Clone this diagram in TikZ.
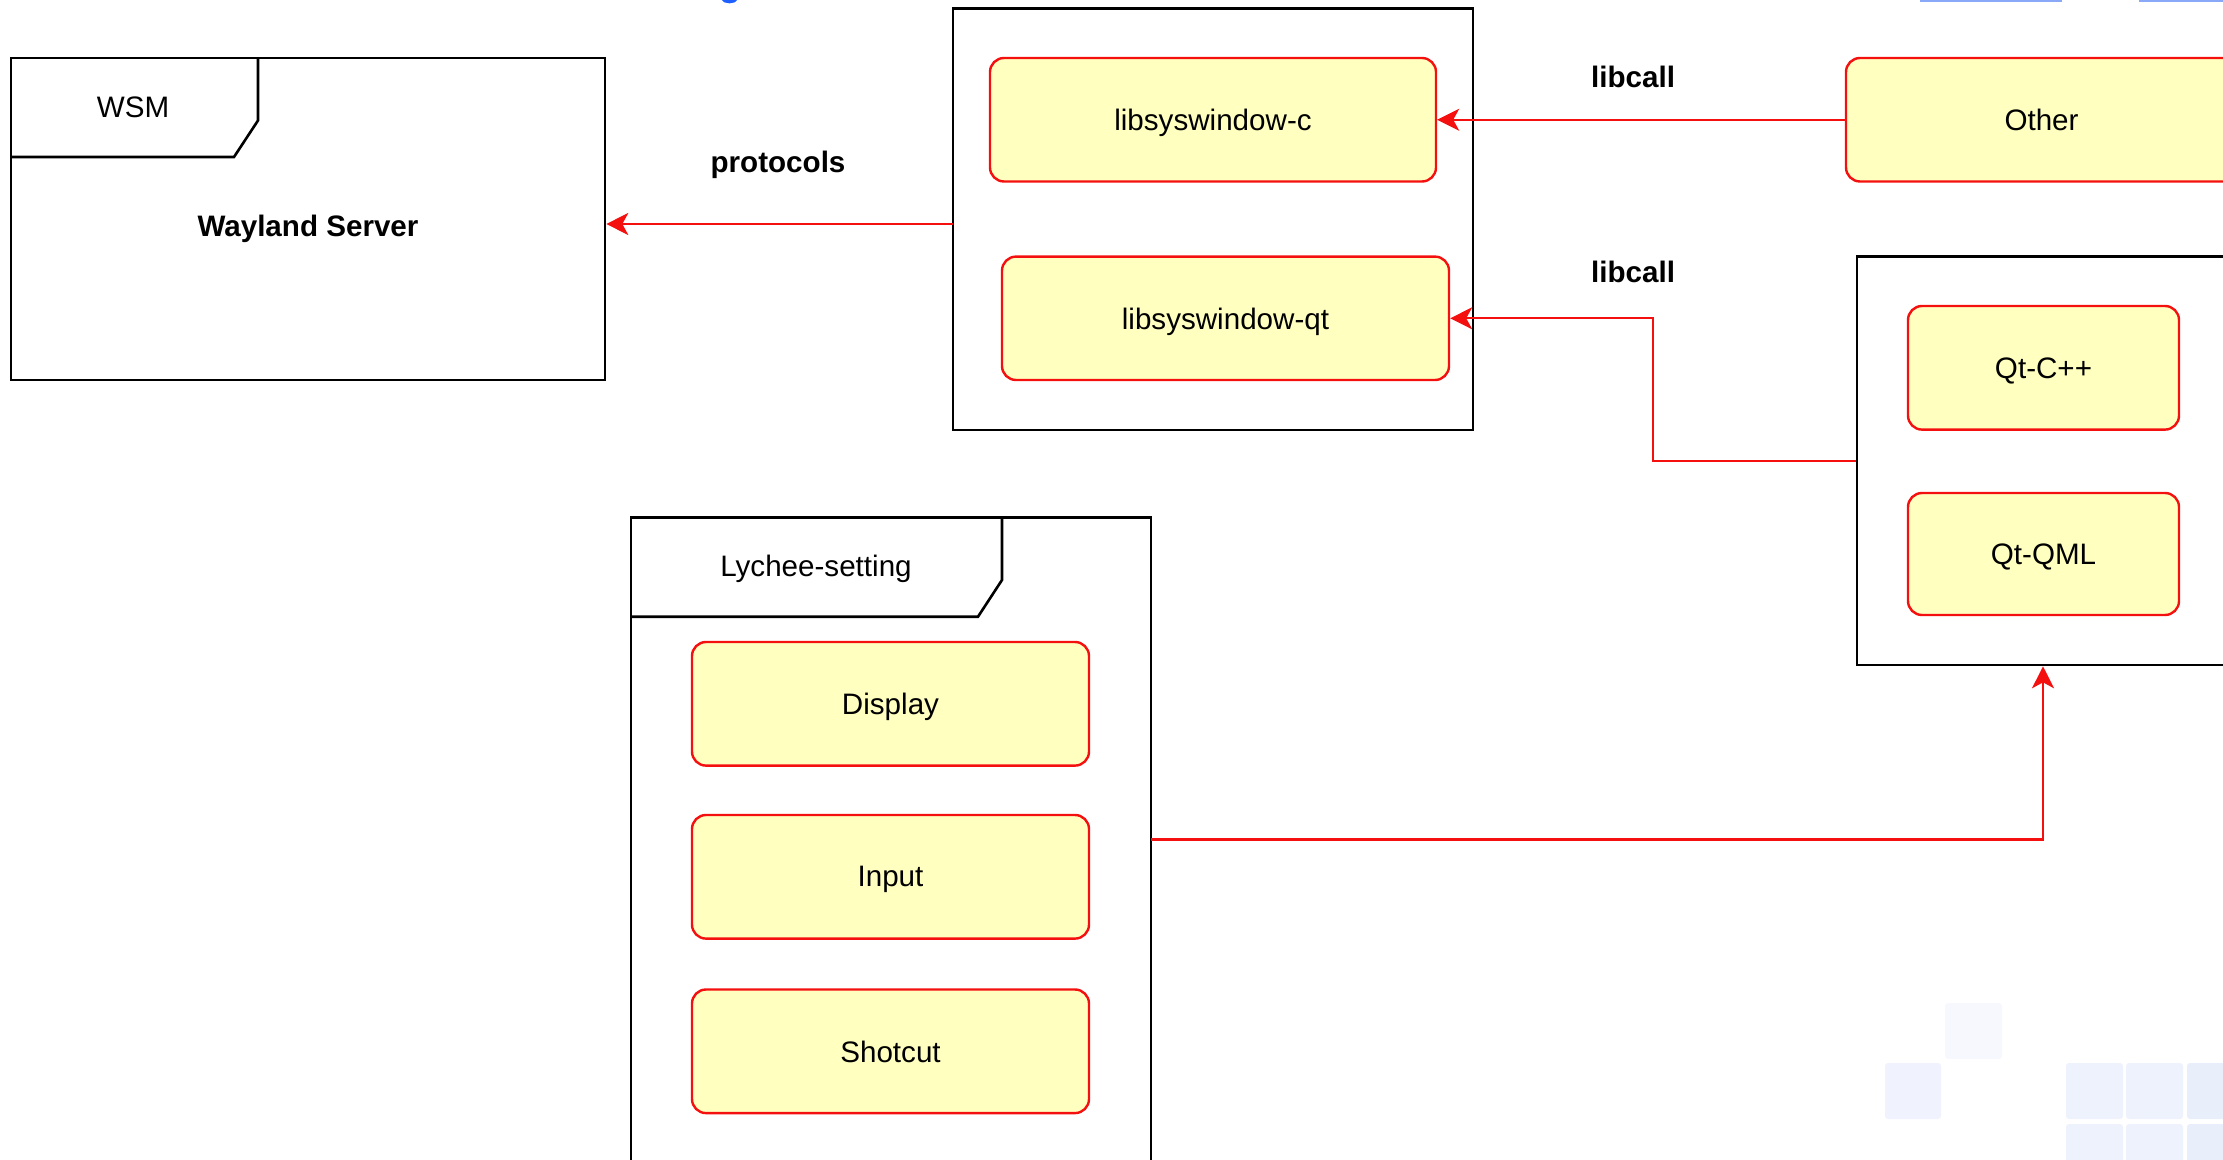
\documentclass[tikz,border=0pt]{standalone}
\usepackage{fontspec}
\setmainfont{Liberation Sans}
\usetikzlibrary{arrows.meta}
\definecolor{yfill}{HTML}{FFFFC0}
\definecolor{lred}{HTML}{F51010}
\definecolor{sqa}{HTML}{F7F8FD}
\definecolor{sqb}{HTML}{F0F3FD}
\definecolor{sqc}{HTML}{EEF2FC}
\definecolor{sqd}{HTML}{E9EEFB}
\definecolor{topblue}{HTML}{8AA8F8}
\definecolor{gblue}{HTML}{1F5FFF}
\tikzset{
  frame/.style={draw=black, line width=1.3pt, fill=none, inner sep=0pt},
  comp/.style={draw=lred, fill=yfill, line width=1.2pt, rounded corners=7pt, inner sep=0pt, align=center, text depth=0pt},
  plain/.style={inner sep=0pt, text depth=0pt},
  lbl/.style={font=\fontsize{14.8pt}{17pt}\selectfont\bfseries, inner sep=0pt, text depth=0pt},
  conn/.style={draw=lred, line width=1.2pt, -{Stealth[length=11pt,width=11pt,inset=3pt]}},
  sq/.style={rounded corners=1.5pt}
}
\begin{document}
\begin{tikzpicture}[x=0.5pt,y=-0.5pt, font=\fontsize{14.8pt}{17pt}\selectfont]
\useasboundingbox (0,0) rectangle (2223,1160);
\clip (0,0) rectangle (2223,1160);

% faint decorative squares
\fill[sqa,sq] (1945,1003) rectangle (2002,1059);
\fill[sqb,sq] (1885,1063) rectangle (1941,1119);
\fill[sqc,sq] (2066,1063) rectangle (2123,1119);
\fill[sqc,sq] (2126,1063) rectangle (2183,1119);
\fill[sqd,sq] (2187,1063) rectangle (2244,1119);
\fill[sqc,sq] (2066,1124) rectangle (2123,1180);
\fill[sqc,sq] (2126,1124) rectangle (2183,1180);
\fill[sqd,sq] (2187,1124) rectangle (2244,1180);

% cut-off items at the top edge
\draw[gblue, line width=1.6pt] (722,-2) .. controls (724,3) and (735,3) .. (737,-2);
\fill[topblue] (1920,0) rectangle (2062,1.6);
\fill[topblue] (2139,0) rectangle (2223,1.6);

% WSM frame
\node[frame, minimum width=297pt, minimum height=161pt] (wsm) at (308,219) {};
\draw[black, line width=1.3pt] (11,157) -- (234,157) -- (258,120.5) -- (258,58);
\node[plain] (wsmtab) at (133,107) {WSM};
\node[lbl] (wayland) at (308,226) {Wayland Server};

% middle container
\node[frame, minimum width=260pt, minimum height=210.75pt] (mid) at (1213,219.25) {};
\node[comp, minimum width=223pt, minimum height=61.75pt] (libc) at (1213,119.75) {libsyswindow-c};
\node[comp, minimum width=223.5pt, minimum height=61.7pt] (libqt) at (1225.5,318.3) {libsyswindow-qt};

% Other
\node[comp, minimum width=195.5pt, minimum height=61.75pt] (other) at (2041.5,119.75) {Other};

% Qt container
\node[frame, minimum width=186pt, minimum height=204.2pt] (qt) at (2043,460.8) {};
\node[comp, minimum width=135.5pt, minimum height=61.8pt] (qtcpp) at (2043.5,367.8) {Qt-C++};
\node[comp, minimum width=135.5pt, minimum height=61pt] (qtqml) at (2043.5,554) {Qt-QML};

% Lychee-setting frame
\node[frame, minimum width=260pt, minimum height=342.5pt] (lychee) at (891,860) {};
\draw[black, line width=1.3pt] (631,616.7) -- (978,616.7) -- (1002,580) -- (1002,517.5);
\node[plain] (lycheetab) at (816,566) {Lychee-setting};
\node[comp, minimum width=198.5pt, minimum height=61.8pt] (display) at (890.5,703.8) {Display};
\node[comp, minimum width=198.5pt, minimum height=61.8pt] (input) at (890.5,876.8) {Input};
\node[comp, minimum width=198.5pt, minimum height=61.8pt] (shotcut) at (890.5,1051.3) {Shotcut};

% connector labels
\node[lbl] (protocols) at (778,162) {protocols};
\node[lbl] (libcall1) at (1633,76.5) {libcall};
\node[lbl] (libcall2) at (1633,272) {libcall};

% connectors
\coordinate (midout) at (953,224);
\draw[conn] (midout) -- (midout -| wsm.east);
\draw[conn] (other.west) -- (libc.east);
\coordinate (bend) at (1653,0);
\draw[conn] (qt.west) -- (qt.west -| bend) -- (libqt.east -| bend) -- (libqt.east);
\coordinate (lyout) at (1151,839.3);
\draw[conn] (lyout) -| (qt.south);
\end{tikzpicture}
\end{document}
